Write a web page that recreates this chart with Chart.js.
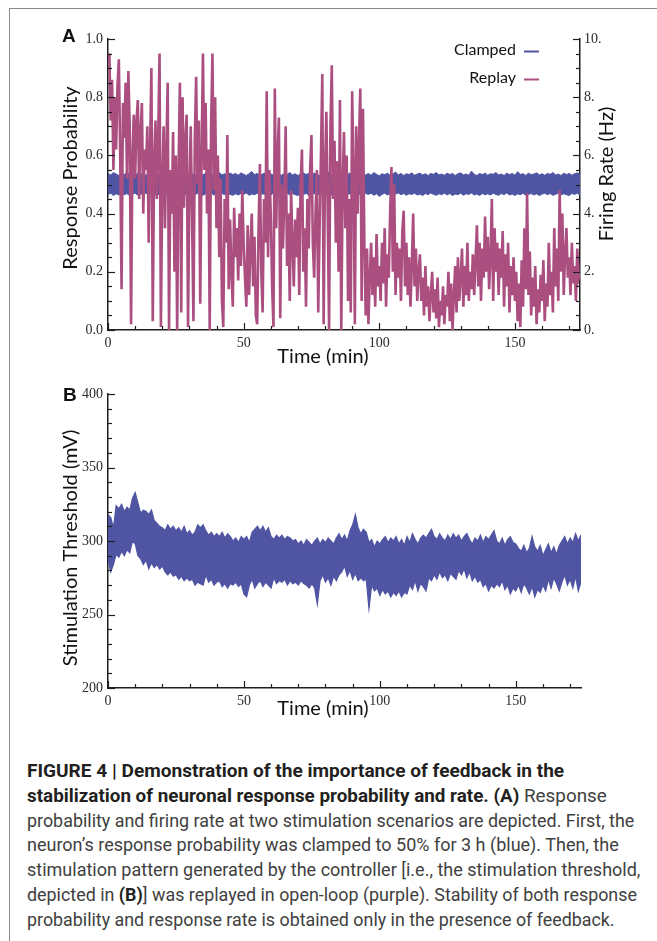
<!DOCTYPE html>
<html>
<head>
<meta charset="utf-8">
<script src="https://cdn.jsdelivr.net/npm/chart.js@4.4.1/dist/chart.umd.min.js"></script>
<style>
body{margin:0;background:#fff;width:657px;height:941px;position:relative;overflow:hidden}
#frame{position:absolute;left:9px;top:8px;right:-2px;bottom:-2px;border-left:1px solid #8a8a8a;border-top:1px solid #8a8a8a}
canvas{position:absolute;left:0}
#chartA{top:0}
#chartB{top:380px}
.cap{position:absolute;left:27px;top:759px;font-family:Roboto,"Liberation Sans",sans-serif;font-size:18px;line-height:24.8px;color:#404040}
.cap div{white-space:nowrap;width:max-content;transform-origin:0 50%}
.cap b{color:#231f20;font-weight:700}
</style>
</head>
<body>
<div id="frame"></div>
<canvas id="chartA" width="657" height="380"></canvas>
<canvas id="chartB" width="657" height="360"></canvas>
<div class="cap">
  <div><b>FIGURE 4 | Demonstration of the importance of feedback in the</b></div>
  <div><b>stabilization of neuronal response probability and rate. (A)</b> Response</div>
  <div>probability and firing rate at two stimulation scenarios are depicted. First, the</div>
  <div>neuron’s response probability was clamped to 50% for 3 h (blue). Then, the</div>
  <div>stimulation pattern generated by the controller [i.e., the stimulation threshold,</div>
  <div>depicted in <b>(B)</b>] was replayed in open-loop (purple). Stability of both response</div>
  <div>probability and response rate is obtained only in the presence of feedback.</div>
</div>
<script>
// ---- data (time in minutes) ----

// replay response probability, one sample every 0.5 min
const replayStep = 0.5;
const replayProb = [
  0.92, 0.95, 0.72, 0.86, 0.55, 0.80, 0.62, 0.84, 0.93, 0.60,
  0.14, 0.78, 0.66, 0.85, 0.52, 0.89, 0.70, 0.02, 0.60, 0.74,
  0.52, 0.72, 0.79, 0.45, 0.68, 0.78, 0.40, 0.62, 0.55, 0.70,
  0.30, 0.62, 0.90, 0.03, 0.58, 0.72, 0.45, 0.66, 0.95, 0.01,
  0.50, 0.70, 0.35, 0.62, 0.85, 0.00, 0.55, 0.40, 0.68, 0.20,
  0.60, 0.00, 0.55, 0.85, 0.06, 0.80, 0.42, 0.65, 0.74, 0.01,
  0.48, 0.70, 0.38, 0.03, 0.66, 0.87, 0.50, 0.72, 0.09, 0.60,
  0.95, 0.55, 0.78, 0.40, 0.62, 0.00, 0.70, 0.95, 0.48, 0.80,
  0.35, 0.60, 0.25, 0.52, 0.10, 0.01, 0.45, 0.30, 0.67, 0.14,
  0.38, 0.20, 0.08, 0.42, 0.25, 0.35, 0.17, 0.40, 0.22, 0.48,
  0.30, 0.18, 0.08, 0.36, 0.12, 0.28, 0.40, 0.15, 0.32, 0.05,
  0.02, 0.35, 0.57, 0.20, 0.06, 0.45, 0.30, 0.82, 0.25, 0.55,
  0.40, 0.15, 0.01, 0.83, 0.35, 0.60, 0.73, 0.04, 0.50, 0.28,
  0.45, 0.70, 0.22, 0.40, 0.10, 0.48, 0.30, 0.15, 0.38, 0.25,
  0.42, 0.12, 0.50, 0.62, 0.20, 0.35, 0.08, 0.45, 0.28, 0.55,
  0.67, 0.30, 0.18, 0.40, 0.55, 0.06, 0.35, 0.60, 0.88, 0.02,
  0.55, 0.75, 0.40, 0.00, 0.70, 0.91, 0.45, 0.65, 0.30, 0.58,
  0.20, 0.79, 0.00, 0.50, 0.68, 0.35, 0.60, 0.10, 0.45, 0.06,
  0.82, 0.55, 0.02, 0.70, 0.40, 0.64, 0.83, 0.10, 0.76, 0.30,
  0.05, 0.28, 0.02, 0.18, 0.30, 0.12, 0.25, 0.08, 0.33, 0.15,
  0.22, 0.10, 0.30, 0.16, 0.35, 0.08, 0.26, 0.18, 0.40, 0.56,
  0.20, 0.50, 0.12, 0.30, 0.18, 0.28, 0.10, 0.34, 0.41, 0.15,
  0.30, 0.12, 0.25, 0.08, 0.22, 0.40, 0.15, 0.28, 0.10, 0.20,
  0.26, 0.10, 0.18, 0.05, 0.22, 0.08, 0.15, 0.03, 0.12, 0.20,
  0.06, 0.14, 0.04, 0.18, 0.01, 0.10, 0.05, 0.15, 0.02, 0.12,
  0.08, 0.20, 0.03, 0.16, 0.00, 0.12, 0.22, 0.06, 0.25, 0.10,
  0.18, 0.28, 0.08, 0.22, 0.12, 0.30, 0.10, 0.20, 0.14, 0.26,
  0.12, 0.24, 0.36, 0.15, 0.30, 0.10, 0.28, 0.18, 0.39, 0.20,
  0.32, 0.14, 0.25, 0.45, 0.10, 0.35, 0.20, 0.30, 0.12, 0.28,
  0.18, 0.34, 0.08, 0.26, 0.15, 0.30, 0.06, 0.22, 0.12, 0.25,
  0.10, 0.20, 0.03, 0.16, 0.01, 0.24, 0.08, 0.35, 0.14, 0.47,
  0.12, 0.27, 0.05, 0.18, 0.08, 0.22, 0.02, 0.14, 0.06, 0.19,
  0.10, 0.24, 0.03, 0.16, 0.08, 0.30, 0.12, 0.20, 0.06, 0.35,
  0.15, 0.28, 0.10, 0.48, 0.20, 0.40, 0.12, 0.26, 0.35, 0.18,
  0.25, 0.12, 0.30, 0.16, 0.22, 0.10, 0.28, 0.18, 0.20
];

// clamped response probability: upper / lower edge of the noise band, every 1 min
const clampStep = 1;
const clampHigh = [
  0.538, 0.533, 0.541, 0.536, 0.531, 0.539, 0.534, 0.544, 0.533, 0.537,
  0.531, 0.540, 0.535, 0.538, 0.532, 0.536, 0.542, 0.533, 0.537, 0.531,
  0.539, 0.534, 0.537, 0.532, 0.540, 0.535, 0.531, 0.538, 0.534, 0.543,
  0.533, 0.537, 0.531, 0.539, 0.535, 0.532, 0.540, 0.534, 0.538, 0.532,
  0.536, 0.541, 0.533, 0.537, 0.531, 0.539, 0.534, 0.538, 0.532, 0.540,
  0.535, 0.531, 0.537, 0.545, 0.534, 0.538, 0.532, 0.536, 0.540, 0.533,
  0.537, 0.531, 0.539, 0.535, 0.532, 0.538, 0.534, 0.541, 0.533, 0.537,
  0.531, 0.536, 0.540, 0.534, 0.538, 0.532, 0.539, 0.535, 0.531, 0.537,
  0.533, 0.544, 0.536, 0.532, 0.538, 0.534, 0.540, 0.535, 0.532, 0.539,
  0.534, 0.537, 0.531, 0.540, 0.536, 0.533, 0.538, 0.532, 0.541, 0.535,
  0.530, 0.537, 0.534, 0.539, 0.532, 0.536, 0.543, 0.533, 0.538, 0.531,
  0.537, 0.534, 0.540, 0.532, 0.536, 0.539, 0.533, 0.537, 0.531, 0.538,
  0.535, 0.541, 0.533, 0.536, 0.532, 0.539, 0.534, 0.538, 0.531, 0.537,
  0.540, 0.533, 0.536, 0.532, 0.546, 0.535, 0.531, 0.538, 0.534, 0.539,
  0.532, 0.537, 0.535, 0.541, 0.533, 0.536, 0.531, 0.539, 0.534, 0.538,
  0.532, 0.544, 0.535, 0.537, 0.531, 0.539, 0.534, 0.536, 0.540, 0.533,
  0.537, 0.532, 0.538, 0.535, 0.541, 0.533, 0.536, 0.531, 0.539, 0.534,
  0.538, 0.532, 0.537, 0.540, 0.535
];
const clampLow = [
  0.466, 0.470, 0.462, 0.468, 0.464, 0.471, 0.465, 0.469, 0.461, 0.467,
  0.470, 0.463, 0.468, 0.465, 0.471, 0.464, 0.469, 0.466, 0.462, 0.468,
  0.465, 0.470, 0.463, 0.467, 0.469, 0.464, 0.471, 0.466, 0.462, 0.468,
  0.465, 0.469, 0.464, 0.470, 0.466, 0.463, 0.468, 0.465, 0.471, 0.464,
  0.467, 0.462, 0.469, 0.465, 0.470, 0.466, 0.463, 0.468, 0.464, 0.469,
  0.466, 0.471, 0.463, 0.467, 0.465, 0.470, 0.462, 0.468, 0.466, 0.469,
  0.464, 0.470, 0.465, 0.463, 0.468, 0.466, 0.471, 0.464, 0.469, 0.465,
  0.462, 0.468, 0.465, 0.470, 0.463, 0.467, 0.469, 0.464, 0.466, 0.471,
  0.465, 0.468, 0.462, 0.467, 0.470, 0.464, 0.466, 0.469, 0.463, 0.468,
  0.465, 0.471, 0.464, 0.467, 0.462, 0.469, 0.466, 0.470, 0.463, 0.468,
  0.459, 0.466, 0.470, 0.464, 0.468, 0.462, 0.467, 0.471, 0.465, 0.469,
  0.463, 0.468, 0.466, 0.470, 0.464, 0.467, 0.462, 0.469, 0.465, 0.471,
  0.466, 0.463, 0.468, 0.465, 0.470, 0.464, 0.469, 0.462, 0.467, 0.465,
  0.470, 0.463, 0.468, 0.466, 0.471, 0.464, 0.467, 0.462, 0.469, 0.465,
  0.468, 0.464, 0.470, 0.466, 0.463, 0.469, 0.465, 0.471, 0.464, 0.467,
  0.462, 0.468, 0.465, 0.470, 0.463, 0.466, 0.469, 0.464, 0.468, 0.462,
  0.467, 0.470, 0.465, 0.469, 0.463, 0.466, 0.471, 0.464, 0.468, 0.465,
  0.462, 0.469, 0.466, 0.470, 0.464
];

// stimulation threshold (mV): upper / lower edge of the band, every 1 min
const threshStep = 1;
const threshHigh = [
  318, 316, 309, 324, 322, 325, 320, 323, 321, 329,
  333, 326, 319, 321, 320, 318, 321, 314, 312, 310,
  309, 307, 311, 308, 310, 307, 309, 306, 310, 305,
  307, 304, 306, 311, 309, 311, 307, 304, 306, 303,
  305, 303, 306, 302, 305, 303, 300, 302, 299, 303,
  301, 303, 299, 306, 308, 310, 307, 310, 306, 309,
  303, 301, 304, 302, 304, 301, 303, 302, 300, 301,
  298, 300, 297, 301, 299, 297, 300, 302, 298, 301,
  299, 302, 300, 298, 302, 305, 301, 304, 300, 307,
  311, 318, 309, 305, 308, 306, 299, 301, 296, 300,
  298, 301, 303, 299, 302, 300, 303, 298, 301, 297,
  303, 299, 305, 301, 298, 302, 304, 302, 305, 308,
  303, 301, 305, 302, 300, 304, 301, 305, 302, 304,
  300, 303, 305, 301, 298, 302, 300, 304, 299, 303,
  301, 304, 307, 300, 298, 302, 297, 301, 303, 299,
  298, 295, 293, 297, 292, 295, 303, 296, 293, 297,
  290, 294, 298, 292, 296, 291, 297, 300, 303, 298,
  302, 299, 305, 300, 304
];
const threshLow = [
  287, 279, 284, 291, 289, 293, 290, 294, 292, 300,
  298, 290, 288, 284, 287, 281, 285, 282, 284, 281,
  283, 279, 277, 279, 276, 277, 274, 276, 273, 275,
  273, 274, 270, 272, 271, 270, 277, 272, 274, 270,
  272, 273, 269, 271, 268, 271, 270, 272, 269, 271,
  264, 262, 270, 274, 268, 271, 273, 269, 272, 270,
  268, 275, 271, 273, 272, 274, 270, 273, 271, 272,
  270, 273, 271, 270, 268, 271, 268, 257, 273, 277,
  272, 275, 270, 276, 273, 277, 279, 283, 276, 280,
  274, 278, 273, 275, 273, 274, 254, 270, 266, 268,
  263, 267, 264, 266, 262, 265, 263, 266, 262, 265,
  264, 270, 267, 273, 266, 271, 269, 266, 275, 273,
  277, 274, 279, 275, 277, 273, 278, 276, 274, 280,
  277, 281, 275, 279, 273, 276, 272, 274, 269, 271,
  266, 270, 268, 271, 269, 273, 267, 270, 264, 268,
  266, 270, 265, 271, 268, 264, 269, 262, 267, 265,
  270, 266, 274, 268, 275, 271, 266, 272, 277, 270,
  274, 268, 276, 266, 272
];

const timeMax = 174;
const xTicks = [0, 50, 100, 150];

const BLUE = '#5055a3';
const PURPLE = '#ab4f80';
const INK = '#1e1e1e';
const SERIF = '"Liberation Serif", "DejaVu Serif", serif';
const SANS = 'Lato, "Open Sans", sans-serif';

const toPts = (arr, step) => arr.map((v, i) => ({x: i * step, y: v}));

// ---- plugins ----

// inward major + minor tick marks, drawn from the scales themselves
function inwardTicks(minorSteps) {
  return {
    id: 'inwardTicks',
    afterDraw(chart) {
      const ctx = chart.ctx;
      ctx.save();
      ctx.strokeStyle = INK;
      ctx.lineWidth = 1.2;
      Object.keys(minorSteps).forEach(id => {
        const s = chart.scales[id];
        const step = minorSteps[id];
        const majors = s.ticks.map(t => t.value);
        for (let k = 0; ; k++) {
          const v = s.min + k * step;
          if (v > s.max + step / 100) break;
          const isMajor = majors.some(m => Math.abs(m - v) < step / 10);
          const len = isMajor ? 7 : 4;
          const p = Math.round(s.getPixelForValue(v)) + 0.5;
          ctx.beginPath();
          if (s.axis === 'x') { ctx.moveTo(p, s.top); ctx.lineTo(p, s.top - len); }
          else if (s.position === 'left') { ctx.moveTo(s.right, p); ctx.lineTo(s.right + len, p); }
          else { ctx.moveTo(s.left, p); ctx.lineTo(s.left - len, p); }
          ctx.stroke();
        }
      });
      ctx.restore();
    }
  };
}

// axis titles and panel letters
function textMarks(items) {
  return {
    id: 'textMarks',
    afterDraw(chart) {
      const ctx = chart.ctx;
      items.forEach(it => {
        ctx.save();
        ctx.translate(it.x, it.y);
        if (it.rot) ctx.rotate(it.rot);
        ctx.font = it.font;
        ctx.fillStyle = it.color || '#111';
        ctx.textAlign = it.align || 'center';
        ctx.textBaseline = 'alphabetic';
        ctx.fillText(it.text, 0, 0);
        ctx.restore();
      });
    }
  };
}

// legend: label then a short line sample
const sideLegend = {
  id: 'sideLegend',
  afterDraw(chart) {
    const ctx = chart.ctx;
    const rows = [['Clamped', 55], ['Replay', 83]];
    ctx.save();
    ctx.font = '16px ' + SANS;
    ctx.textAlign = 'right';
    ctx.textBaseline = 'alphabetic';
    rows.forEach(([label, y]) => {
      const ds = chart.data.datasets.find(d => d.label === label);
      ctx.fillStyle = '#111';
      ctx.fillText(label, 516, y);
      ctx.strokeStyle = ds.borderColor;
      ctx.lineWidth = 2;
      ctx.beginPath();
      ctx.moveTo(524, y - 3.5);
      ctx.lineTo(539, y - 3.5);
      ctx.stroke();
    });
    ctx.restore();
  }
};

Chart.defaults.font.family = SERIF;
Chart.defaults.color = '#2a2a2a';

const tickFont = {family: SERIF, size: 14};
const axisBorder = {display: true, color: INK, width: 1.5};
const noGrid = {display: false, drawTicks: false};

function xScale(h) {
  return {
    type: 'linear', min: 0, max: timeMax,
    grid: noGrid, border: axisBorder,
    afterBuildTicks: s => { s.ticks = xTicks.map(v => ({value: v})); },
    ticks: {font: tickFont, padding: 5, maxRotation: 0},
    afterFit: s => { s.height = h; }
  };
}

// ---- panel A ----
new Chart(document.getElementById('chartA'), {
  type: 'line',
  data: {
    datasets: [
      {label: 'Replay', data: toPts(replayProb, replayStep), borderColor: PURPLE,
       borderWidth: 2.6, pointRadius: 0, fill: false, yAxisID: 'y', order: 0},
      {label: '', data: toPts(clampHigh, clampStep), borderColor: BLUE,
       borderWidth: 1, pointRadius: 0, fill: false, yAxisID: 'y', order: 1},
      {label: 'Clamped', data: toPts(clampLow, clampStep), borderColor: BLUE,
       backgroundColor: BLUE, borderWidth: 1, pointRadius: 0, fill: '-1', yAxisID: 'y', order: 1}
    ]
  },
  options: {
    responsive: false, animation: false, devicePixelRatio: 1,
    layout: {padding: {left: 58, right: 37, top: 39, bottom: 0}},
    plugins: {legend: {display: false}, tooltip: {enabled: false}},
    scales: {
      x: xScale(50),
      y: {
        min: 0, max: 1, position: 'left',
        grid: noGrid, border: axisBorder,
        ticks: {stepSize: 0.2, font: tickFont, padding: 5, callback: v => v.toFixed(1)},
        afterFit: s => { s.width = 50; }
      },
      yR: {
        min: 0, max: 10, position: 'right',
        grid: noGrid, border: axisBorder,
        ticks: {stepSize: 2, font: tickFont, padding: 4, callback: v => v + '.'},
        afterFit: s => { s.width = 40; }
      }
    }
  },
  plugins: [
    inwardTicks({x: 10, y: 0.05, yR: 0.5}),
    textMarks([
      {text: 'A', x: 62, y: 42, align: 'left', font: 'bold 19px "Liberation Sans", Arial, sans-serif'},
      {text: 'Response Probability', x: 77, y: 178, rot: -Math.PI / 2, font: '20px ' + SANS},
      {text: 'Firing Rate (Hz)', x: 613, y: 174, rot: -Math.PI / 2, font: '20px ' + SANS},
      {text: 'Time (min)', x: 323, y: 363, font: '20px ' + SANS}
    ]),
    sideLegend
  ]
});

// ---- panel B ----
new Chart(document.getElementById('chartB'), {
  type: 'line',
  data: {
    datasets: [
      {label: 'upper', data: toPts(threshHigh, threshStep), borderColor: BLUE,
       borderWidth: 1.2, pointRadius: 0, fill: false},
      {label: 'Stimulation threshold', data: toPts(threshLow, threshStep), borderColor: BLUE,
       backgroundColor: BLUE, borderWidth: 1.2, pointRadius: 0, fill: '-1'}
    ]
  },
  options: {
    responsive: false, animation: false, devicePixelRatio: 1,
    layout: {padding: {left: 58, right: 76, top: 14, bottom: 0}},
    plugins: {legend: {display: false}, tooltip: {enabled: false}},
    scales: {
      x: xScale(52),
      y: {
        min: 200, max: 400, position: 'left',
        grid: noGrid, border: axisBorder,
        ticks: {stepSize: 50, font: tickFont, padding: 5},
        afterFit: s => { s.width = 50; }
      }
    }
  },
  plugins: [
    inwardTicks({x: 10, y: 10}),
    textMarks([
      {text: 'B', x: 63, y: 21, align: 'left', font: 'bold 19px "Liberation Sans", Arial, sans-serif'},
      {text: 'Stimulation Threshold (mV)', x: 77, y: 168, rot: -Math.PI / 2, font: '20px ' + SANS},
      {text: 'Time (min)', x: 323, y: 335, font: '20px ' + SANS}
    ])
  ]
});

// fit caption lines to the widths of the printed figure
const lineWidths = [537, 580, 607, 592, 613, 610, 588];
document.querySelectorAll('.cap div').forEach((d, i) => {
  d.style.transform = 'scaleX(' + (lineWidths[i] / d.offsetWidth) + ')';
});
</script>
</body>
</html>
